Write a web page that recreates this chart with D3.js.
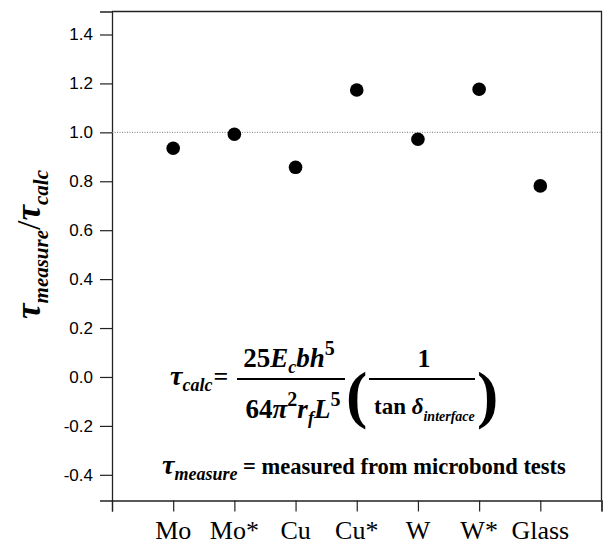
<!DOCTYPE html>
<html>
<head>
<meta charset="utf-8">
<script src="https://cdn.jsdelivr.net/npm/d3@7"></script>
<style>
  body { margin: 0; background: #fff; }
  svg text { fill: #000; }
  .serif { font-family: "Liberation Serif", "Times New Roman", serif; font-weight: bold; }
</style>
</head>
<body>
<div id="graph"></div>
<script>
// samples and ratio tau_measure / tau_calc
var samples = ["Mo", "Mo*", "Cu", "Cu*", "W", "W*", "Glass"];
var ratios = [0.935, 0.992, 0.857, 1.173, 0.972, 1.176, 0.781];
var yTicks = [-0.4, -0.2, 0.0, 0.2, 0.4, 0.6, 0.8, 1.0, 1.2, 1.4];
var refValue = 1.0;

var w = 603, h = 552;
var plotL = 112, plotR = 601.5, plotT = 11.5, plotB = 500.5;

var svg = d3.select("#graph")
	.append("svg")
	.attr("width", w)
	.attr("height", h);

var xScale = d3.scaleLinear()
	.domain([0, samples.length + 1])
	.range([plotL, plotR]);
var yScale = d3.scaleLinear()
	.domain([-0.505, 1.494])
	.range([plotB, plotT]);

// y axis
var yAxis = d3.axisLeft(yScale)
	.tickValues(yTicks)
	.tickSize(12)
	.tickPadding(7)
	.tickFormat(d3.format(".1f"));
var gy = svg.append("g")
	.attr("transform", "translate(" + plotL + ",0)")
	.call(yAxis);
gy.select(".domain").attr("stroke", "#222").attr("stroke-width", 1.3);
gy.selectAll(".tick line").attr("stroke", "#222").attr("stroke-width", 1.2);
gy.selectAll(".tick text")
	.attr("font-family", "'Liberation Sans', Arial, sans-serif")
	.attr("font-size", 17)
	.attr("fill", "#111")
	.text(function (d) { return d3.format(".1f")(d).replace("−", "-"); });

// x axis
var xAxis = d3.axisBottom(xScale)
	.tickValues(d3.range(0, samples.length + 2))
	.tickSize(11)
	.tickFormat("");
var gx = svg.append("g")
	.attr("transform", "translate(0," + plotB + ")")
	.call(xAxis);
gx.select(".domain").attr("stroke", "#222").attr("stroke-width", 1.3);
gx.selectAll(".tick line").attr("stroke", "#222").attr("stroke-width", 1.2);

svg.append("g")
	.selectAll("text")
	.data(samples)
	.enter()
	.append("text")
	.attr("x", function (d, i) { return xScale(i + 1); })
	.attr("y", 539)
	.attr("text-anchor", "middle")
	.attr("font-family", "'Liberation Serif', 'Times New Roman', serif")
	.attr("font-size", 26)
	.text(function (d) { return d; });

// frame top and right
svg.append("path")
	.attr("d", "M" + plotL + "," + plotT + "H" + plotR + "V" + plotB)
	.attr("fill", "none")
	.attr("stroke", "#222")
	.attr("stroke-width", 1.3);

// reference line at 1.0
svg.append("line")
	.attr("x1", plotL)
	.attr("x2", plotR)
	.attr("y1", yScale(refValue))
	.attr("y2", yScale(refValue))
	.attr("stroke", "#777")
	.attr("stroke-width", 1)
	.attr("stroke-dasharray", "1,1.5");

// points
svg.append("g")
	.selectAll("circle")
	.data(ratios)
	.enter()
	.append("circle")
	.attr("cx", function (d, i) { return xScale(i + 1); })
	.attr("cy", function (d) { return yScale(d); })
	.attr("r", 6.8)
	.attr("fill", "#000");

// y axis title
var ylab = svg.append("text")
	.attr("class", "serif")
	.attr("transform", "translate(40,319) rotate(-90)")
	.attr("font-style", "italic");
ylab.append("tspan").attr("font-size", 35).text("τ");
ylab.append("tspan").attr("font-size", 21).attr("dy", 8).text("measure");
ylab.append("tspan").attr("font-size", 34).attr("dy", -8).attr("font-style", "normal").attr("font-weight", "normal").text("/");
ylab.append("tspan").attr("font-size", 35).text("τ");
ylab.append("tspan").attr("font-size", 21).attr("dy", 8).text("calc");

// formula
var f = svg.append("g").attr("class", "serif");

var tc = f.append("text").attr("x", 170).attr("y", 385);
tc.append("tspan").attr("font-size", 28).attr("font-style", "italic").text("τ");
tc.append("tspan").attr("font-size", 18).attr("font-style", "italic").attr("dy", 6).text("calc");
tc.append("tspan").attr("font-size", 26).attr("dy", -6).attr("dx", 1).text("=");

var num = f.append("text").attr("x", 289).attr("y", 367).attr("text-anchor", "middle").attr("font-size", 27);
num.append("tspan").text("25");
num.append("tspan").attr("font-style", "italic").text("E");
num.append("tspan").attr("font-style", "italic").attr("font-size", 18).attr("dy", 6).text("c");
num.append("tspan").attr("font-style", "italic").attr("dy", -6).text("bh");
num.append("tspan").attr("font-size", 20).attr("dy", -12).text("5");

f.append("line").attr("x1", 237).attr("x2", 345).attr("y1", 379).attr("y2", 379)
	.attr("stroke", "#000").attr("stroke-width", 1.8);

var den = f.append("text").attr("x", 293).attr("y", 418).attr("text-anchor", "middle").attr("font-size", 27);
den.append("tspan").text("64");
den.append("tspan").attr("font-style", "italic").text("π");
den.append("tspan").attr("font-size", 20).attr("dy", -12).text("2");
den.append("tspan").attr("font-style", "italic").attr("dy", 12).text("r");
den.append("tspan").attr("font-style", "italic").attr("font-size", 18).attr("dy", 6).text("f");
den.append("tspan").attr("font-style", "italic").attr("dy", -6).text("L");
den.append("tspan").attr("font-size", 20).attr("dy", -12).text("5");

f.append("text").attr("x", 346).attr("y", 416).attr("font-size", 64).text("(");
f.append("text").attr("x", 477).attr("y", 416).attr("font-size", 64).text(")");

f.append("text").attr("x", 424).attr("y", 367).attr("text-anchor", "middle").attr("font-size", 26).text("1");
f.append("line").attr("x1", 369).attr("x2", 475).attr("y1", 379).attr("y2", 379)
	.attr("stroke", "#000").attr("stroke-width", 1.8);
var tn = f.append("text").attr("x", 374).attr("y", 414).attr("font-size", 23);
tn.append("tspan").text("tan ");
tn.append("tspan").attr("font-style", "italic").text("δ");
tn.append("tspan").attr("font-style", "italic").attr("font-size", 14).attr("dy", 7).text("interface");

var tm = f.append("text").attr("x", 162).attr("y", 474);
tm.append("tspan").attr("font-size", 28).attr("font-style", "italic").text("τ");
tm.append("tspan").attr("font-size", 18).attr("font-style", "italic").attr("dy", 6).text("measure");
tm.append("tspan").attr("font-size", 22.5).attr("dy", -6).text(" = measured from microbond tests");
</script>
</body>
</html>
